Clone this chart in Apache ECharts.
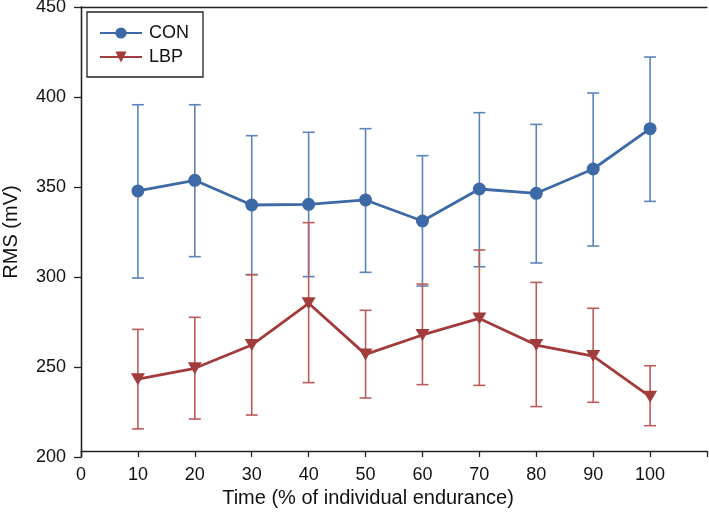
<!DOCTYPE html>
<html>
<head>
<meta charset="utf-8">
<script src="https://cdn.jsdelivr.net/npm/echarts@6/dist/echarts.min.js"></script>
<style>
html,body{margin:0;padding:0;background:#fff;}
#chart{width:709px;height:518px;}
</style>
</head>
<body>
<div id="chart"></div>
<script>
var times = [10, 20, 30, 40, 50, 60, 70, 80, 90, 100];
var conMean  = [347.8, 353.7, 340.0, 340.4, 342.8, 331.1, 348.9, 346.5, 360.0, 382.4];
var conUpper = [395.7, 395.7, 378.5, 380.4, 382.4, 367.4, 391.3, 384.8, 402.2, 422.2];
var conLower = [299.4, 311.3, 301.3, 300.2, 302.6, 295.0, 305.7, 307.8, 317.2, 342.0];
var lbpMean  = [243.2, 249.3, 262.2, 285.4, 257.0, 267.8, 277.0, 262.2, 256.1, 233.5];
var lbpUpper = [270.9, 277.6, 301.3, 330.2, 281.5, 296.1, 315.0, 297.0, 282.6, 250.7];
var lbpLower = [215.6, 221.1, 223.3, 241.3, 232.8, 240.2, 239.8, 228.0, 230.4, 217.4];
var yTicks = [200, 250, 300, 350, 400, 450];
var xTicks = [0, 10, 20, 30, 40, 50, 60, 70, 80, 90, 100];

var FONT = '"Liberation Sans", Arial, sans-serif';
var BLUE = '#3d69a6', BLUE_ERR = '#5b84bb';
var RED = '#a23c3c', RED_ERR = '#bd5b5b';

function pts(means) { return times.map(function (t, i) { return [t, means[i]]; }); }
function errData(lo, hi) { return times.map(function (t, i) { return [t, lo[i], hi[i]]; }); }
function errSeries(lo, hi, color) {
  return {
    type: 'custom',
    data: errData(lo, hi),
    z: 1,
    silent: true,
    renderItem: function (params, api) {
      var x = api.value(0);
      var a = api.coord([x, api.value(1)]);
      var b = api.coord([x, api.value(2)]);
      var w = 6;
      var st = { stroke: color, lineWidth: 1.6 };
      return {
        type: 'group',
        children: [
          { type: 'line', shape: { x1: a[0], y1: a[1], x2: b[0], y2: b[1] }, style: st },
          { type: 'line', shape: { x1: a[0] - w, y1: a[1], x2: a[0] + w, y2: a[1] }, style: st },
          { type: 'line', shape: { x1: b[0] - w, y1: b[1], x2: b[0] + w, y2: b[1] }, style: st }
        ]
      };
    }
  };
}

var chart = echarts.init(document.getElementById('chart'), null, { renderer: 'canvas' });
chart.setOption({
  animation: false,
  backgroundColor: '#fff',
  textStyle: { fontFamily: FONT },
  grid: { left: 81, right: 2, top: 7, bottom: 61, containLabel: false, outerBoundsMode: 'none' },
  legend: {
    left: 87, top: 12, orient: 'vertical',
    padding: [12, 14, 11, 12],
    itemGap: 6, itemWidth: 42, itemHeight: 14,
    borderColor: '#222', borderWidth: 1.3, backgroundColor: '#fff',
    textStyle: { fontFamily: FONT, fontSize: 18, color: '#111', padding: [0, 0, 0, 2] },
    data: ['CON', 'LBP']
  },
  xAxis: [{
    type: 'value', min: 0, max: 110, interval: 10, offset: -6,
    name: 'Time (% of individual endurance)', nameLocation: 'middle', nameGap: 37,
    nameTextStyle: { fontFamily: FONT, fontSize: 20, color: '#111', padding: [0, 52, 0, 0] },
    axisLine: { show: true, lineStyle: { color: '#222', width: 1.3 } },
    axisTick: { show: true, inside: false, length: 6, lineStyle: { color: '#222', width: 1.3 } },
    axisLabel: { fontFamily: FONT, fontSize: 18, color: '#111', margin: 15,
      formatter: function (v) { return xTicks.indexOf(v) >= 0 ? String(v) : ''; } },
    splitLine: { show: false }
  }, {
    type: 'value', min: 0, max: 110, position: 'top',
    axisLine: { show: true, lineStyle: { color: '#222', width: 1.3 } },
    axisTick: { show: false }, axisLabel: { show: false }, splitLine: { show: false }
  }],
  yAxis: [{
    type: 'value', min: 200, max: 450, interval: 50,
    name: 'RMS (mV)', nameLocation: 'middle', nameGap: 60, nameRotate: 90,
    nameTextStyle: { fontFamily: FONT, fontSize: 20, color: '#111' },
    axisLine: { show: true, lineStyle: { color: '#222', width: 1.3 } },
    axisTick: { show: true, inside: false, length: 7, lineStyle: { color: '#222', width: 1.3 } },
    axisLabel: { fontFamily: FONT, fontSize: 18, color: '#111', margin: 15,
      formatter: function (v) { return yTicks.indexOf(v) >= 0 ? String(v) : ''; } },
    splitLine: { show: false }
  }, {
    type: 'value', min: 200, max: 450, position: 'right',
    axisLine: { show: true, lineStyle: { color: '#222', width: 1.3 } },
    axisTick: { show: false }, axisLabel: { show: false }, splitLine: { show: false }
  }],
  series: [
    errSeries(conLower, conUpper, BLUE_ERR),
    {
      name: 'CON', type: 'line', data: pts(conMean), z: 3,
      symbol: 'circle', symbolSize: 13,
      lineStyle: { color: BLUE, width: 2.8 },
      itemStyle: { color: BLUE }
    },
    errSeries(lbpLower, lbpUpper, RED_ERR),
    {
      name: 'LBP', type: 'line', data: pts(lbpMean), z: 4,
      symbol: 'triangle', symbolRotate: 180, symbolSize: [14, 12],
      lineStyle: { color: RED, width: 2.8 },
      itemStyle: { color: RED }
    }
  ]
});
</script>
</body>
</html>
